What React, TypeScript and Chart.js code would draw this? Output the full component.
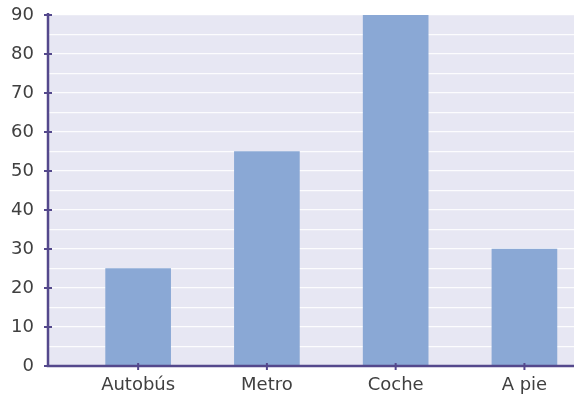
import { useEffect, useRef } from "react";
import { Chart, registerables } from "chart.js";

Chart.register(...registerables);

const categories = ["Autobús", "Metro", "Coche", "A pie"];
const values = [25, 55, 90, 30];
const yLabelTicks = [0, 10, 20, 30, 40, 50, 60, 70, 80, 90];

const AXIS_COLOR = "#54488c";
const PLOT_BG = "#e7e7f3";
const BAR_COLOR = "#8aa8d5";
const TEXT_COLOR = "#404040";

// Lavender plot background, purple axes with small cross ticks drawn on top of the bars
const axesPlugin = {
  id: "axesDecor",
  beforeDraw(chart: any) {
    const { ctx, chartArea } = chart;
    ctx.save();
    ctx.fillStyle = PLOT_BG;
    ctx.fillRect(chartArea.left, chartArea.top, chartArea.right - chartArea.left, chartArea.bottom - chartArea.top);
    ctx.restore();
  },
  afterDatasetsDraw(chart: any) {
    const { ctx, chartArea, scales } = chart;
    const x = scales.x;
    const y = scales.y;
    ctx.save();
    ctx.strokeStyle = AXIS_COLOR;
    ctx.lineWidth = 2.5;
    ctx.beginPath();
    ctx.moveTo(chartArea.left, chartArea.top - 2);
    ctx.lineTo(chartArea.left, chartArea.bottom);
    ctx.lineTo(chartArea.right, chartArea.bottom);
    ctx.stroke();
    ctx.lineWidth = 2;
    yLabelTicks.forEach((v) => {
      const py = y.getPixelForValue(v);
      ctx.beginPath();
      ctx.moveTo(chartArea.left - 4, py);
      ctx.lineTo(chartArea.left + 4, py);
      ctx.stroke();
    });
    categories.forEach((_, i) => {
      const px = x.getPixelForValue(i);
      ctx.beginPath();
      ctx.moveTo(px, chartArea.bottom - 3);
      ctx.lineTo(px, chartArea.bottom + 4);
      ctx.stroke();
    });
    ctx.restore();
  },
};

export default function App() {
  const canvasRef = useRef<HTMLCanvasElement | null>(null);

  useEffect(() => {
    document.body.style.margin = "0";
    const canvas = canvasRef.current;
    if (!canvas) return;
    const chart = new Chart(canvas, {
      type: "bar",
      data: {
        datasets: [
          {
            data: values.map((v, i) => ({ x: i, y: v })),
            backgroundColor: BAR_COLOR,
            borderWidth: 0,
            barThickness: 65,
          },
        ],
      },
      options: {
        animation: false,
        responsive: false,
        layout: { padding: { top: 15, right: 0, left: 0, bottom: 0 } },
        plugins: {
          legend: { display: false },
          tooltip: { enabled: false },
        },
        scales: {
          x: {
            type: "linear",
            offset: false,
            min: -0.7,
            max: 3.385,
            afterBuildTicks: (scale: any) => {
              scale.ticks = categories.map((_, i) => ({ value: i }));
            },
            afterFit: (scale: any) => {
              scale.height = 30;
              scale.paddingLeft = 0;
              scale.paddingRight = 0;
            },
            grid: { display: false },
            border: { display: false },
            ticks: {
              autoSkip: false,
              maxRotation: 0,
              padding: 1,
              color: TEXT_COLOR,
              font: { family: "DejaVu Sans", size: 18 },
              callback: (v: any) => categories[Number(v)] ?? "",
            },
          },
          y: {
            min: 0,
            max: 90,
            afterFit: (scale: any) => {
              scale.width = 48;
              scale.paddingTop = 0;
              scale.paddingBottom = 0;
            },
            grid: { color: "rgba(255,255,255,0.85)", lineWidth: 1.2, drawTicks: false },
            border: { display: false },
            ticks: {
              stepSize: 5,
              autoSkip: false,
              padding: 14,
              color: TEXT_COLOR,
              font: { family: "DejaVu Sans", size: 18 },
              callback: (v: any) => (Number(v) % 10 === 0 ? String(v) : ""),
            },
          },
        },
      },
      plugins: [axesPlugin],
    });
    return () => chart.destroy();
  }, []);

  return (
    <div style={{ position: "absolute", left: 0, top: 0, width: 574, height: 396 }}>
      <canvas ref={canvasRef} width={574} height={396} />
    </div>
  );
}
